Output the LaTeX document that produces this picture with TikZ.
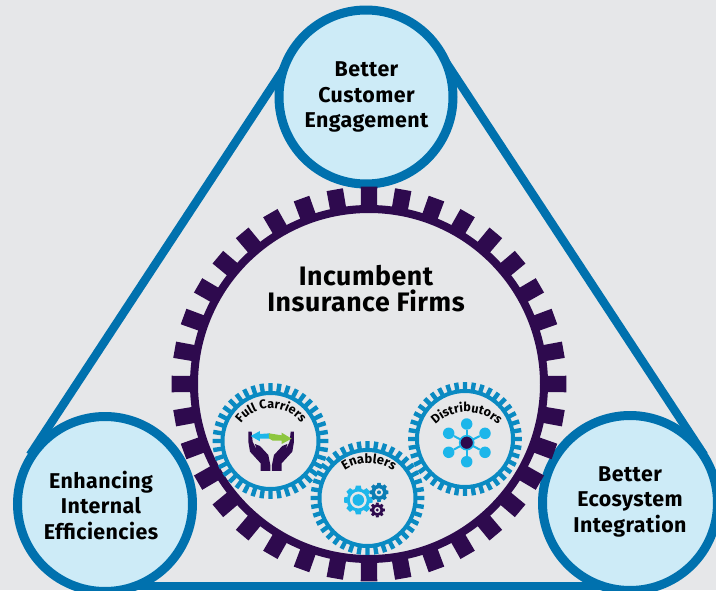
\documentclass[tikz,border=0pt]{standalone}
\usepackage{fontspec}
\setmainfont{Fira Sans}[LetterSpace=2.0]
\usetikzlibrary{decorations.text,calc}
\definecolor{bgc}{HTML}{E6E7E9}
\definecolor{ringblue}{HTML}{0071AE}
\definecolor{palefill}{HTML}{CDEBF7}
\definecolor{deep}{HTML}{2E0A4E}
\definecolor{gearblue}{HTML}{0A8AC2}
\definecolor{cyanc}{HTML}{1DB6EA}
\definecolor{greenc}{HTML}{8DC63F}
\definecolor{iconblue}{HTML}{0B7DB4}
\tikzset{
  x=1pt,y=1pt,
  goal/.style={circle,draw=ringblue,line width=9pt,fill=palefill,minimum size=#1,inner sep=0pt,align=center,font=\fontsize{21.4}{25.5}\selectfont\bfseries,text=black},
  edgeline/.style={draw=ringblue,line width=8.5pt},
  title/.style={align=center,font=\fontsize{26.7}{25.5}\selectfont\bfseries,text=black},
  hub/.style={circle,fill=cyanc,minimum size=11.5pt,inner sep=0pt},
  spoke/.style={draw=cyanc,line width=2pt},
  plainlabel/.style={inner sep=0pt,align=center,font=\fontsize{21.4}{25.5}\selectfont\bfseries,text=black},
}
\newcommand{\gearwheel}[9]{% cx cy rin rbase rtip n halfbase halftip color
  \fill[#9,even odd rule] (#1,#2) circle[radius=#4] (#1,#2) circle[radius=#3];
  \pgfmathsetmacro{\gstep}{360/#6}
  \foreach \gi in {1,...,#6}{
    \pgfmathsetmacro{\ga}{90+\gi*\gstep}
    \fill[#9] ($(#1,#2)+(\ga-#7:#4-0.5)$) -- ($(#1,#2)+(\ga-#8:#5)$) -- ($(#1,#2)+(\ga+#8:#5)$) -- ($(#1,#2)+(\ga+#7:#4-0.5)$) -- cycle;
  }
}
\newcommand{\cogicon}[6]{% cx cy rout rbody rhole color
  \fill[#6,even odd rule] (#1,#2) circle[radius=#4] (#1,#2) circle[radius=#5];
  \foreach \gi in {0,45,...,315}{
    \fill[#6] ($(#1,#2)+(\gi-17:#4-0.3)$) -- ($(#1,#2)+(\gi-10:#3)$) -- ($(#1,#2)+(\gi+10:#3)$) -- ($(#1,#2)+(\gi+17:#4-0.3)$) -- cycle;
  }
}
\newcommand{\curvefont}{\fontsize{12.6}{13}\selectfont\bfseries}
\newcommand{\curvefontb}{\fontsize{13}{13}\selectfont\bfseries}
\begin{document}
\begin{tikzpicture}
\useasboundingbox (0,-590) rectangle (716,0);
\fill[bgc] (0,-590) rectangle (716,0);
% triangle
\coordinate (apexL) at (289.5,-60);
\coordinate (apexR) at (444.5,-60);
\coordinate (leftT) at (30,-455);
\coordinate (rightT) at (704,-455);
\coordinate (baseL) at (105,-586);
\coordinate (baseR) at (630,-586);
\draw[edgeline] (apexL) -- (leftT);
\draw[edgeline] (apexR) -- (rightT);
\draw[edgeline] (baseL) -- (baseR);
% goals
\node[goal=174pt] (top) at (366,-97) {};
\node[plainlabel] (toptext) at (366.5,-97) {Better\\Customer\\Engagement};
\node[goal=175pt] (left) at (105,-504) {};
\node[plainlabel] (lefttext) at (101,-505) {Enhancing\\Internal\\Efficiencies};
\node[goal=175pt] (right) at (630,-503) {};
\node[plainlabel] (righttext) at (630,-501.5) {Better\\Ecosystem\\Integration};
% main gear
\gearwheel{369}{-384}{171}{179}{197.5}{36}{2.6}{2.4}{deep}
\node[title] (firm) at (366,-288.5) {Incumbent\\Insurance Firms};
% small gears
\gearwheel{270.5}{-441}{46}{50}{58}{40}{2.5}{2.2}{gearblue}
\gearwheel{465}{-439}{46}{50}{57}{40}{2.5}{2.2}{gearblue}
\gearwheel{367.5}{-498}{46}{50}{57}{40}{2.5}{2.2}{gearblue}
% curved labels
\path[decorate,decoration={text along path,text align=center,text={|\curvefont|Full Carriers}}]
  (271,-445.7) ++(170:37.5) arc[start angle=170,end angle=10,radius=37.5];
\path[decorate,decoration={text along path,text align=center,text={|\curvefont|Distributors}}]
  (466.7,-456) ++(170:44) arc[start angle=170,end angle=10,radius=44];
\path[decorate,decoration={text along path,text align=center,text={|\curvefontb|Enablers}}]
  (369,-506) ++(170:43) arc[start angle=170,end angle=10,radius=43];
% hands
\begin{scope}[shift={(200,-370)},x=0.3333pt,y=-0.3333pt]
\fill[deep] (145,185) -- (155,185) -- (158,215) -- (170,240) -- (165,222) -- (180,228) -- (205,255) -- (211,285) -- (211,303) -- (182,303) -- (182,280) -- (150,245) -- (145,215) -- cycle;
\fill[deep] (282,185) -- (272,185) -- (269,215) -- (257,240) -- (262,222) -- (247,228) -- (222,255) -- (216,285) -- (216,303) -- (245,303) -- (245,280) -- (277,245) -- (282,215) -- cycle;
\fill[cyanc] (152,198) -- (180,183) -- (180,192) -- (210,190) -- (210,206) -- (180,206) -- (180,214) -- cycle;
\fill[greenc] (207,190) -- (245,196) -- (245,188) -- (275,206) -- (245,222) -- (245,212) -- (218,212) -- (207,205) -- cycle;
\end{scope}
% distributors icon
\coordinate (dcore) at (466.7,-442.7);
\node[hub] (d1) at (466.7,-424) {};
\node[hub] (d2) at (485,-433.3) {};
\node[hub] (d3) at (485,-452.3) {};
\node[hub] (d4) at (466.7,-461.7) {};
\node[hub] (d5) at (448.7,-452.3) {};
\node[hub] (d6) at (448.7,-433.3) {};
\foreach \d in {d1,d2,d3,d4,d5,d6}{\draw[spoke] (dcore) -- (\d);}
\node[circle,fill=deep,draw=cyanc,line width=1.6pt,minimum size=14pt,inner sep=0pt] (dhub) at (dcore) {};
% enablers icon
\cogicon{358.3}{-500}{14.5}{11.5}{8.5}{cyanc}
\fill[cyanc] (358.3,-500) circle[radius=5.8];
\cogicon{379}{-492.3}{9.6}{7.6}{4.2}{iconblue}
\fill[iconblue] (379,-492.3) circle[radius=2];
\cogicon{377.3}{-510}{7.6}{5.8}{3.2}{deep}
\fill[deep] (377.3,-510) circle[radius=1.6];
\end{tikzpicture}
\end{document}
